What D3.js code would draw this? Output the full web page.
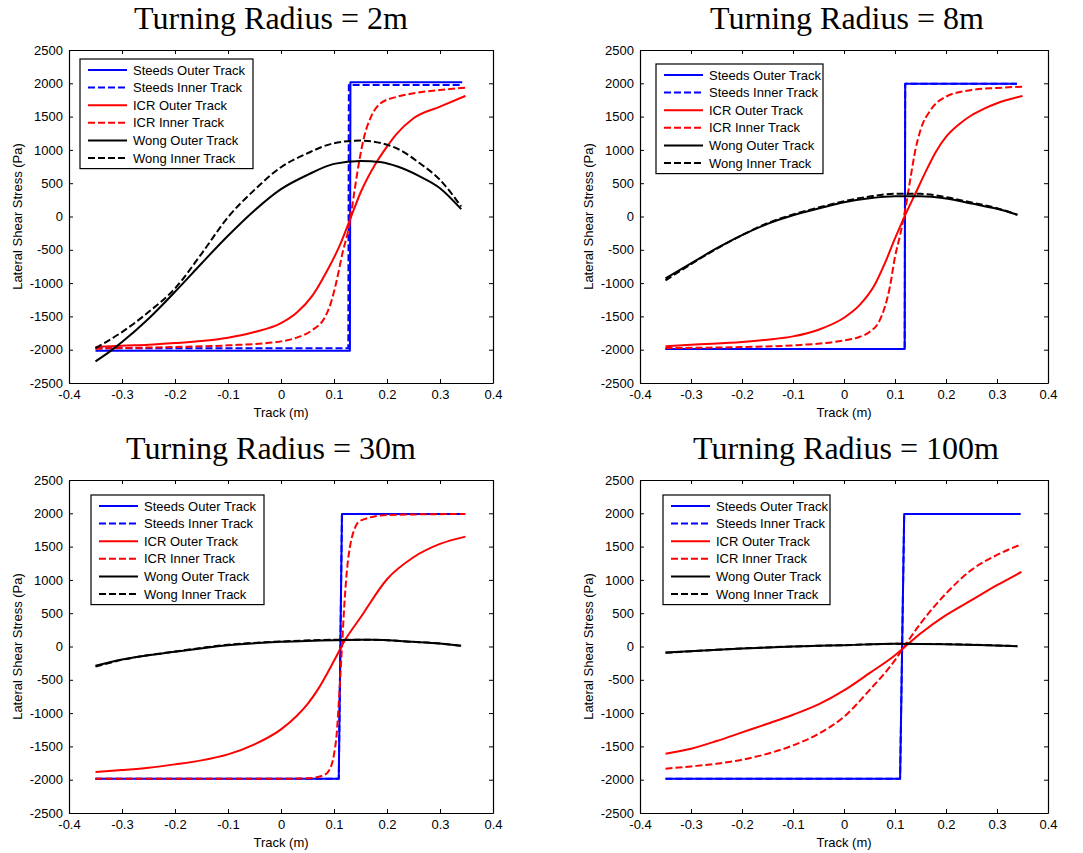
<!DOCTYPE html>
<html>
<head>
<meta charset="utf-8">
<script src="https://cdn.jsdelivr.net/npm/d3@7/dist/d3.min.js"></script>
<style>
  html, body { margin: 0; padding: 0; background: #fff; }
  svg { display: block; }
  .tick line, .domain { stroke: #000; }
</style>
</head>
<body>
<svg id="chart" width="1083" height="853"></svg>
<script>
// ---- axis ticks ----
const xTicks = [-0.4, -0.3, -0.2, -0.1, 0, 0.1, 0.2, 0.3, 0.4];
const xTickLabels = ["-0.4", "-0.3", "-0.2", "-0.1", "0", "0.1", "0.2", "0.3", "0.4"];
const yTicks = [-2500, -2000, -1500, -1000, -500, 0, 500, 1000, 1500, 2000, 2500];
const yTickLabels = ["-2500", "-2000", "-1500", "-1000", "-500", "0", "500", "1000", "1500", "2000", "2500"];

const xLabel = "Track (m)";
const yLabel = "Lateral Shear Stress (Pa)";
const panelTitles = ["Turning Radius = 2m", "Turning Radius = 8m", "Turning Radius = 30m", "Turning Radius = 100m"];
const seriesNames = ["Steeds Outer Track", "Steeds Inner Track", "ICR Outer Track", "ICR Inner Track", "Wong Outer Track", "Wong Inner Track"];

// ---- R = 2 m : [track (m), stress (Pa)] ----
const steedsOuter2 = [[-0.35, -2015], [0.13, -2015], [0.131, 2015], [0.342, 2015]];
const steedsInner2 = [[-0.35, -1980], [0.127, -1980], [0.128, 1975], [0.342, 1975]];
const icrOuter2 = [[-0.35, -1960], [-0.3, -1940], [-0.25, -1925], [-0.2, -1900], [-0.15, -1870], [-0.1, -1820], [-0.05, -1735], [0, -1600], [0.03, -1440], [0.06, -1180], [0.088, -800], [0.11, -450], [0.13, -50], [0.151, 375], [0.179, 800], [0.2, 1050], [0.217, 1230], [0.25, 1475], [0.3, 1650], [0.348, 1810]];
const icrInner2 = [[-0.35, -1985], [-0.3, -1975], [-0.2, -1960], [-0.1, -1935], [0, -1875], [0.031, -1815], [0.06, -1700], [0.082, -1525], [0.094, -1300], [0.104, -1000], [0.116, -550], [0.129, -125], [0.138, 350], [0.148, 850], [0.157, 1200], [0.17, 1500], [0.188, 1700], [0.22, 1800], [0.25, 1850], [0.3, 1900], [0.348, 1935]];
const wongOuter2 = [[-0.35, -2175], [-0.32, -2010], [-0.3, -1885], [-0.25, -1535], [-0.2, -1130], [-0.15, -705], [-0.1, -290], [-0.05, 90], [0, 410], [0.05, 625], [0.1, 790], [0.15, 835], [0.19, 815], [0.22, 750], [0.26, 610], [0.3, 425], [0.34, 110]];
const wongInner2 = [[-0.35, -1975], [-0.3, -1735], [-0.25, -1435], [-0.2, -1080], [-0.15, -560], [-0.1, -10], [-0.05, 400], [0, 740], [0.05, 950], [0.1, 1100], [0.15, 1140], [0.19, 1100], [0.23, 975], [0.26, 810], [0.3, 550], [0.34, 150]];

// ---- R = 8 m ----
const steedsOuter8 = [[-0.35, -1990], [0.119, -1990], [0.12, 1995], [0.339, 1995]];
const steedsInner8 = [[-0.35, -1990], [0.119, -1990], [0.12, 1995], [0.339, 1995]];
const icrOuter8 = [[-0.35, -1950], [-0.3, -1925], [-0.2, -1885], [-0.15, -1850], [-0.1, -1800], [-0.05, -1700], [0, -1520], [0.03, -1335], [0.06, -1030], [0.08, -705], [0.1, -330], [0.12, 20], [0.14, 345], [0.16, 670], [0.18, 970], [0.2, 1195], [0.225, 1380], [0.25, 1520], [0.275, 1620], [0.3, 1700], [0.35, 1810]];
const icrInner8 = [[-0.35, -1975], [-0.2, -1960], [-0.1, -1935], [0, -1860], [0.03, -1810], [0.05, -1735], [0.07, -1560], [0.08, -1360], [0.09, -1055], [0.1, -605], [0.11, -280], [0.12, 100], [0.13, 560], [0.14, 1000], [0.15, 1300], [0.17, 1600], [0.2, 1800], [0.25, 1900], [0.3, 1930], [0.35, 1950]];
const wongOuter8 = [[-0.35, -930], [-0.3, -705], [-0.25, -480], [-0.2, -280], [-0.15, -110], [-0.1, 20], [-0.05, 120], [0, 215], [0.05, 275], [0.1, 305], [0.15, 305], [0.2, 270], [0.25, 195], [0.3, 115], [0.34, 25]];
const wongInner8 = [[-0.35, -960], [-0.3, -715], [-0.25, -485], [-0.2, -280], [-0.15, -100], [-0.1, 30], [-0.05, 135], [0, 230], [0.05, 300], [0.1, 340], [0.15, 340], [0.2, 290], [0.25, 210], [0.3, 125], [0.34, 25]];

// ---- R = 30 m ----
const steedsOuter30 = [[-0.35, -1985], [0.109, -1985], [0.115, 1990], [0.345, 1990]];
const steedsInner30 = [[-0.35, -1985], [0.109, -1985], [0.115, 1990], [0.345, 1990]];
const icrOuter30 = [[-0.35, -1885], [-0.3, -1855], [-0.25, -1820], [-0.2, -1770], [-0.15, -1710], [-0.1, -1620], [-0.05, -1470], [0, -1245], [0.03, -1040], [0.05, -865], [0.07, -640], [0.1, -215], [0.12, 85], [0.15, 435], [0.2, 1010], [0.25, 1340], [0.3, 1540], [0.348, 1650]];
const icrInner30 = [[-0.35, -1985], [0, -1985], [0.05, -1980], [0.08, -1935], [0.09, -1870], [0.1, -1620], [0.105, -1320], [0.11, -715], [0.115, -15], [0.12, 685], [0.125, 1190], [0.13, 1490], [0.14, 1790], [0.15, 1890], [0.2, 1975], [0.348, 1990]];
const wongOuter30 = [[-0.35, -290], [-0.3, -195], [-0.2, -80], [-0.1, 20], [0, 70], [0.1, 95], [0.17, 100], [0.25, 70], [0.3, 45], [0.34, 10]];
const wongInner30 = [[-0.35, -300], [-0.3, -200], [-0.2, -75], [-0.1, 25], [0, 75], [0.1, 100], [0.17, 100], [0.25, 70], [0.3, 45], [0.34, 10]];

// ---- R = 100 m ----
const steedsOuter100 = [[-0.35, -1985], [0.11, -1985], [0.118, 1990], [0.346, 1990]];
const steedsInner100 = [[-0.35, -1985], [0.11, -1985], [0.118, 1990], [0.346, 1990]];
const icrOuter100 = [[-0.35, -1610], [-0.3, -1535], [-0.25, -1420], [-0.2, -1290], [-0.15, -1160], [-0.1, -1025], [-0.05, -870], [0, -660], [0.05, -400], [0.1, -130], [0.12, 0], [0.15, 195], [0.2, 470], [0.25, 695], [0.3, 920], [0.348, 1120]];
const icrInner100 = [[-0.35, -1835], [-0.3, -1800], [-0.25, -1760], [-0.2, -1700], [-0.15, -1610], [-0.1, -1485], [-0.05, -1310], [0, -1055], [0.05, -655], [0.1, -205], [0.12, 20], [0.15, 345], [0.2, 795], [0.25, 1150], [0.3, 1375], [0.348, 1535]];
const wongOuter100 = [[-0.35, -90], [-0.2, -30], [-0.1, 0], [0, 20], [0.1, 40], [0.2, 35], [0.3, 15], [0.34, 5]];
const wongInner100 = [[-0.35, -95], [-0.2, -30], [-0.1, 0], [0, 20], [0.1, 40], [0.2, 35], [0.3, 15], [0.34, 5]];

const panelSeries = [
  [steedsOuter2, steedsInner2, icrOuter2, icrInner2, wongOuter2, wongInner2],
  [steedsOuter8, steedsInner8, icrOuter8, icrInner8, wongOuter8, wongInner8],
  [steedsOuter30, steedsInner30, icrOuter30, icrInner30, wongOuter30, wongInner30],
  [steedsOuter100, steedsInner100, icrOuter100, icrInner100, wongOuter100, wongInner100]
];

// line styles per series
const styles = [
  { color: "#0000ff", dash: null, step: true },
  { color: "#0000ff", dash: "7,3", step: true },
  { color: "#ff0000", dash: null, step: false },
  { color: "#ff0000", dash: "7,3", step: false },
  { color: "#000000", dash: null, step: false },
  { color: "#000000", dash: "7,3", step: false }
];

// axes placement on the page
const layout = [
  { left: 69,  top: 50,  width: 424, height: 333, titleX: 271, legX: 80,  legY: 59,  legW: 173 },
  { left: 640, top: 50,  width: 408, height: 333, titleX: 847, legX: 656, legY: 64,  legW: 167 },
  { left: 69,  top: 480, width: 424, height: 333, titleX: 271, legX: 91,  legY: 495, legW: 173 },
  { left: 640, top: 480, width: 408, height: 333, titleX: 846, legX: 663, legY: 495, legW: 167 }
];

const svg = d3.select("#chart");
const sansFont = '"Liberation Sans", Arial, sans-serif';
const serifFont = '"Liberation Serif", "Times New Roman", serif';

layout.forEach((L, p) => {
  const x = d3.scaleLinear().domain([-0.4, 0.4]).range([L.left, L.left + L.width]);
  const y = d3.scaleLinear().domain([-2500, 2500]).range([L.top + L.height, L.top]);

  const g = svg.append("g");

  // white plot background
  g.append("rect")
    .attr("x", L.left).attr("y", L.top)
    .attr("width", L.width).attr("height", L.height)
    .attr("fill", "#fff");

  // data lines
  panelSeries[p].forEach((data, i) => {
    const st = styles[i];
    const line = d3.line()
      .x(d => x(d[0]))
      .y(d => y(d[1]))
      .curve(st.step ? d3.curveLinear : d3.curveMonotoneX);
    g.append("path")
      .attr("d", line(data))
      .attr("fill", "none")
      .attr("stroke", st.color)
      .attr("stroke-width", 2)
      .attr("stroke-linejoin", "round")
      .attr("stroke-dasharray", st.dash);
  });

  // box axes with inward ticks
  const fmtX = (d, i) => xTickLabels[i];
  const fmtY = (d, i) => yTickLabels[i];
  g.append("g").attr("transform", `translate(0,${L.top + L.height})`)
    .call(d3.axisBottom(x).tickValues(xTicks).tickFormat(fmtX).tickSizeInner(-4).tickSizeOuter(0).tickPadding(7));
  g.append("g").attr("transform", `translate(0,${L.top})`)
    .call(d3.axisTop(x).tickValues(xTicks).tickFormat("").tickSizeInner(-4).tickSizeOuter(0));
  g.append("g").attr("transform", `translate(${L.left},0)`)
    .call(d3.axisLeft(y).tickValues(yTicks).tickFormat(fmtY).tickSizeInner(-4).tickSizeOuter(0).tickPadding(6));
  g.append("g").attr("transform", `translate(${L.left + L.width},0)`)
    .call(d3.axisRight(y).tickValues(yTicks).tickFormat("").tickSizeInner(-4).tickSizeOuter(0));
  g.selectAll(".domain").attr("stroke-width", 1.2);
  g.selectAll(".tick text").attr("font-family", sansFont).attr("font-size", 13).attr("fill", "#000");

  // titles and labels
  g.append("text")
    .attr("x", L.titleX).attr("y", L.top - 21)
    .attr("text-anchor", "middle")
    .attr("font-family", serifFont).attr("font-size", 32)
    .text(panelTitles[p]);
  g.append("text")
    .attr("x", L.left + L.width / 2).attr("y", L.top + L.height + 34)
    .attr("text-anchor", "middle")
    .attr("font-family", sansFont).attr("font-size", 13)
    .text(xLabel);
  g.append("text")
    .attr("transform", `translate(${L.left - 47},${L.top + L.height / 2}) rotate(-90)`)
    .attr("text-anchor", "middle")
    .attr("font-family", sansFont).attr("font-size", 13)
    .text(yLabel);

  // legend
  const rowH = 17.6;
  const legH = rowH * seriesNames.length + 4;
  const leg = g.append("g");
  leg.append("rect")
    .attr("x", L.legX).attr("y", L.legY)
    .attr("width", L.legW).attr("height", legH)
    .attr("fill", "#fff").attr("stroke", "#000").attr("stroke-width", 1.2);
  seriesNames.forEach((name, i) => {
    const ry = L.legY + 11 + i * rowH;
    leg.append("line")
      .attr("x1", L.legX + 8).attr("x2", L.legX + 47)
      .attr("y1", ry).attr("y2", ry)
      .attr("stroke", styles[i].color).attr("stroke-width", 2)
      .attr("stroke-dasharray", styles[i].dash);
    leg.append("text")
      .attr("x", L.legX + 53).attr("y", ry)
      .attr("dy", "0.36em")
      .attr("font-family", sansFont).attr("font-size", 13)
      .text(name);
  });
});
</script>
</body>
</html>
